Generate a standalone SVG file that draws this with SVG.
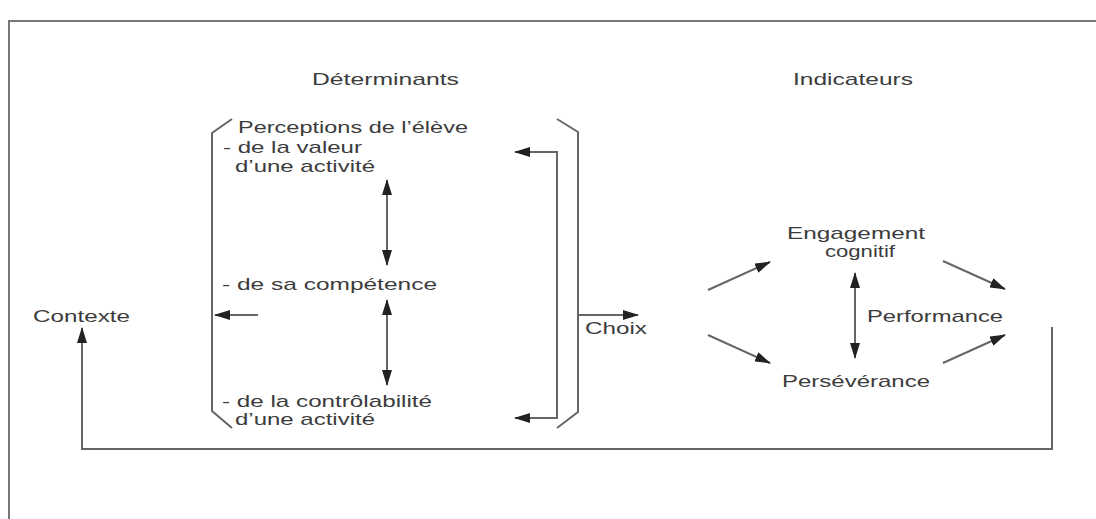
<svg xmlns="http://www.w3.org/2000/svg" width="1096" height="519" viewBox="0 0 1096 519">
  <style>
    .t { font-family: "Liberation Sans", Arial, sans-serif; font-size: 17px; fill: #3c3c3c; }
    .ln { fill: none; stroke: #666; stroke-width: 2; }
    .fr { fill: none; stroke: #777; stroke-width: 2; }
  </style>
  <defs>
    <marker id="ah" markerUnits="userSpaceOnUse" markerWidth="16" markerHeight="10" refX="15" refY="5" orient="auto-start-reverse" viewBox="0 0 16 10">
      <path d="M0,0 L16,5 L0,10 z" fill="#222"/>
    </marker>
  </defs>
  <rect width="1096" height="519" fill="#fff"/>
  <g id="frame">
    <path class="fr" d="M9,519 L9,21 L1096,21"/>
  </g>
  <g id="titles">
    <text class="t" x="312" y="85" textLength="147" lengthAdjust="spacingAndGlyphs">Déterminants</text>
    <text class="t" x="793" y="85" textLength="120" lengthAdjust="spacingAndGlyphs">Indicateurs</text>
  </g>
  <g id="determinants">
    <path class="ln" d="M232,119 L212,133 L212,411 L232,428"/>
    <path class="ln" d="M557,119 L578,132 L578,412 L557,428"/>
    <text class="t" x="238" y="133" textLength="230" lengthAdjust="spacingAndGlyphs">Perceptions de l’élève</text>
    <text class="t" x="223" y="153" textLength="139" lengthAdjust="spacingAndGlyphs">- de la valeur</text>
    <text class="t" x="235" y="172" textLength="140" lengthAdjust="spacingAndGlyphs">d’une activité</text>
    <text class="t" x="222" y="290" textLength="215" lengthAdjust="spacingAndGlyphs">- de sa compétence</text>
    <text class="t" x="222" y="407" textLength="210" lengthAdjust="spacingAndGlyphs">- de la contrôlabilité</text>
    <text class="t" x="235" y="425" textLength="140" lengthAdjust="spacingAndGlyphs">d’une activité</text>
  </g>
  <g id="contexte">
    <text class="t" x="33" y="322" textLength="97" lengthAdjust="spacingAndGlyphs">Contexte</text>
  </g>
  <g id="choix">
    <text class="t" x="585" y="334" textLength="62" lengthAdjust="spacingAndGlyphs">Choix</text>
  </g>
  <g id="engagement">
    <text class="t" x="787" y="239" textLength="138" lengthAdjust="spacingAndGlyphs">Engagement</text>
    <text class="t" x="825" y="257" textLength="70" lengthAdjust="spacingAndGlyphs">cognitif</text>
  </g>
  <g id="performance">
    <text class="t" x="867" y="322" textLength="136" lengthAdjust="spacingAndGlyphs">Performance</text>
  </g>
  <g id="perseverance">
    <text class="t" x="782" y="387" textLength="148" lengthAdjust="spacingAndGlyphs">Persévérance</text>
  </g>
  <g id="connectors">
    <line class="ln" x1="387" y1="180" x2="387" y2="265" marker-start="url(#ah)" marker-end="url(#ah)"/>
    <line class="ln" x1="387" y1="300" x2="387" y2="385" marker-start="url(#ah)" marker-end="url(#ah)"/>
    <line class="ln" x1="258" y1="315" x2="215" y2="315" marker-end="url(#ah)"/>
    <path class="ln" d="M515,152 L557,152 L557,418 L515,418" marker-start="url(#ah)" marker-end="url(#ah)"/>
    <line class="ln" x1="578" y1="315" x2="638" y2="315" marker-end="url(#ah)"/>
    <line class="ln" x1="708" y1="290" x2="770" y2="262" marker-end="url(#ah)"/>
    <line class="ln" x1="708" y1="335" x2="770" y2="363" marker-end="url(#ah)"/>
    <line class="ln" x1="943" y1="261" x2="1005" y2="289" marker-end="url(#ah)"/>
    <line class="ln" x1="943" y1="363" x2="1005" y2="335" marker-end="url(#ah)"/>
    <line class="ln" x1="855" y1="273" x2="855" y2="358" marker-start="url(#ah)" marker-end="url(#ah)"/>
    <path class="ln" d="M1052,327 L1052,449 L82,449 L82,328" marker-end="url(#ah)"/>
  </g>
</svg>
